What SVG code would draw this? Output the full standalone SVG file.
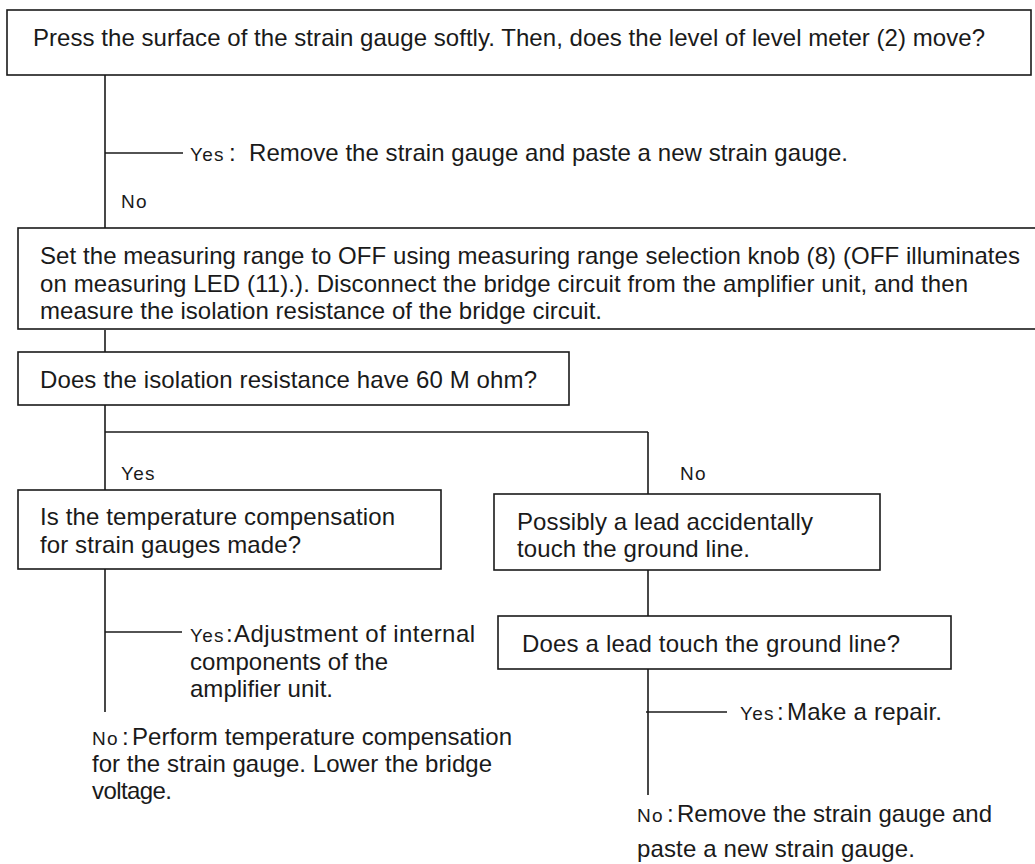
<svg xmlns="http://www.w3.org/2000/svg" width="1035" height="864" viewBox="0 0 1035 864">
<style>
.box{fill:#fff;stroke:#1a1a1a;stroke-width:1.6}
.ln{stroke:#1a1a1a;stroke-width:1.6;fill:none}
text{font-family:"Liberation Sans",Arial,sans-serif;fill:#1a1a1a}
.t{font-size:24px}
.s{font-size:19px;letter-spacing:1.2px}
</style>
<rect width="1035" height="864" fill="#fff"/>
<g id="connectors">
<line class="ln" x1="105" y1="75" x2="105" y2="228"/>
<line class="ln" x1="105" y1="153" x2="183" y2="153"/>
<line class="ln" x1="105" y1="330" x2="105" y2="352"/>
<line class="ln" x1="105" y1="405" x2="105" y2="490"/>
<line class="ln" x1="105" y1="432" x2="648" y2="432"/>
<line class="ln" x1="648" y1="432" x2="648" y2="494"/>
<line class="ln" x1="105" y1="569" x2="105" y2="712"/>
<line class="ln" x1="105" y1="632" x2="182" y2="632"/>
<line class="ln" x1="648" y1="570" x2="648" y2="616"/>
<line class="ln" x1="648" y1="669" x2="648" y2="795"/>
<line class="ln" x1="646" y1="712" x2="727" y2="712"/>
</g>
<g id="labels">
<text class="s" x="190" y="161">Yes</text><text class="t" x="229" y="161">:</text>
<text class="t" x="249" y="161" textLength="599" lengthAdjust="spacing">Remove the strain gauge and paste a new strain gauge.</text>
<text class="s" x="121" y="208">No</text>
<text class="s" x="121" y="480">Yes</text>
<text class="s" x="680" y="480">No</text>
<text class="s" x="190" y="642">Yes</text><text class="t" x="226" y="642">:</text>
<text class="t" x="234" y="642" textLength="241" lengthAdjust="spacing">Adjustment of internal</text>
<text class="t" x="190" y="670" textLength="198" lengthAdjust="spacing">components of the</text>
<text class="t" x="190" y="697" textLength="143" lengthAdjust="spacing">amplifier unit.</text>
<text class="s" x="92" y="745">No</text><text class="t" x="122" y="745">:</text>
<text class="t" x="132" y="745" textLength="380" lengthAdjust="spacing">Perform temperature compensation</text>
<text class="t" x="92" y="772" textLength="400" lengthAdjust="spacing">for the strain gauge. Lower the bridge</text>
<text class="t" x="92" y="799" textLength="80" lengthAdjust="spacing">voltage.</text>
<text class="s" x="740" y="720">Yes</text><text class="t" x="777" y="720">:</text>
<text class="t" x="787" y="720" textLength="155" lengthAdjust="spacing">Make a repair.</text>
<text class="s" x="637" y="822">No</text><text class="t" x="667" y="822">:</text>
<text class="t" x="677" y="822" textLength="315" lengthAdjust="spacing">Remove the strain gauge and</text>
<text class="t" x="637" y="857" textLength="278" lengthAdjust="spacing">paste a new strain gauge.</text>
</g>
<g id="n1">
<rect class="box" x="7" y="10" width="1024" height="65"/>
<text class="t" x="33" y="46" textLength="952" lengthAdjust="spacing">Press the surface of the strain gauge softly. Then, does the level of level meter (2) move?</text>
</g>
<g id="n2">
<rect class="box" x="18" y="228" width="1030" height="101"/>
<text class="t" x="40" y="264" textLength="980" lengthAdjust="spacing">Set the measuring range to OFF using measuring range selection knob (8) (OFF illuminates</text>
<text class="t" x="40" y="292" textLength="928" lengthAdjust="spacing">on measuring LED (11).). Disconnect the bridge circuit from the amplifier unit, and then</text>
<text class="t" x="40" y="319" textLength="562" lengthAdjust="spacing">measure the isolation resistance of the bridge circuit.</text>
</g>
<g id="n3">
<rect class="box" x="18" y="352" width="551" height="53"/>
<text class="t" x="40" y="388" textLength="497" lengthAdjust="spacing">Does the isolation resistance have 60 M ohm?</text>
</g>
<g id="n4">
<rect class="box" x="18" y="490" width="423" height="79"/>
<text class="t" x="40" y="525" textLength="355" lengthAdjust="spacing">Is the temperature compensation</text>
<text class="t" x="40" y="553" textLength="261" lengthAdjust="spacing">for strain gauges made?</text>
</g>
<g id="n5">
<rect class="box" x="494" y="494" width="386" height="76"/>
<text class="t" x="517" y="530" textLength="296" lengthAdjust="spacing">Possibly a lead accidentally</text>
<text class="t" x="517" y="557" textLength="233" lengthAdjust="spacing">touch the ground line.</text>
</g>
<g id="n6">
<rect class="box" x="498" y="616" width="453" height="53"/>
<text class="t" x="522" y="652" textLength="378" lengthAdjust="spacing">Does a lead touch the ground line?</text>
</g>
</svg>
